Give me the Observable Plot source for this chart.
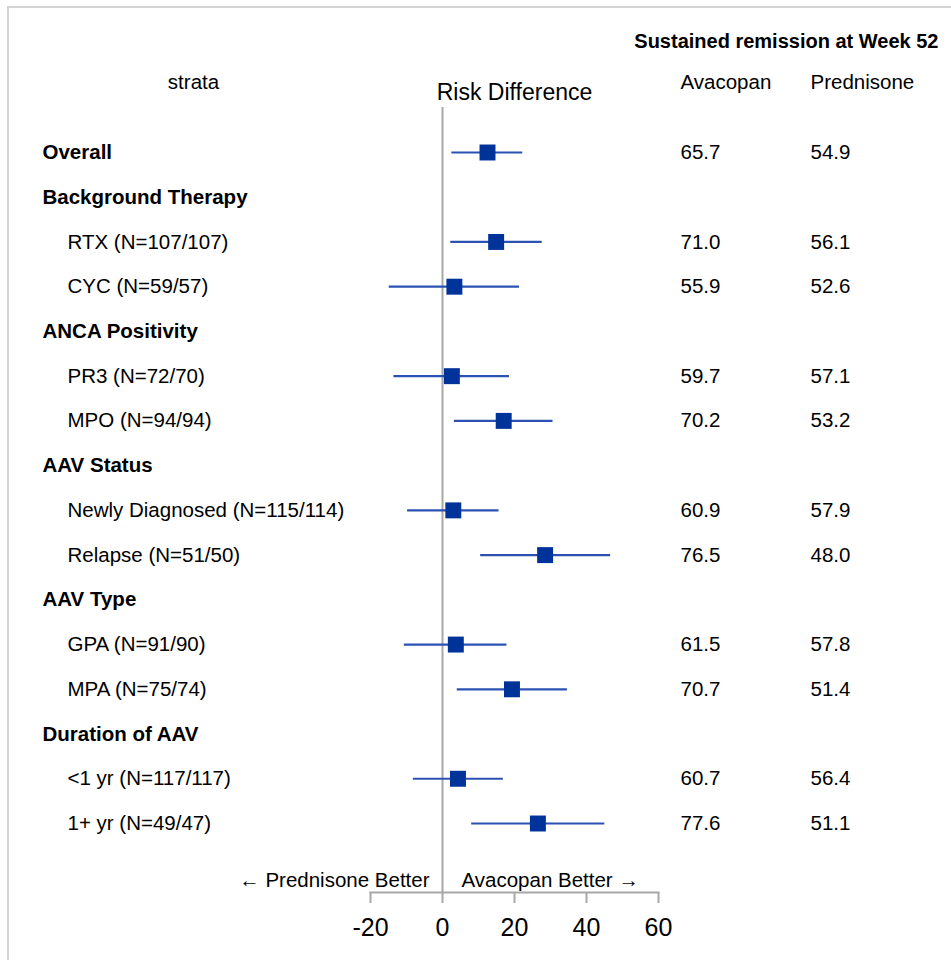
<!DOCTYPE html>
<html>
<head>
<meta charset="utf-8">
<script src="https://cdn.jsdelivr.net/npm/d3@7"></script>
<script src="https://cdn.jsdelivr.net/npm/@observablehq/plot@0.6"></script>
<style>
  html, body { margin: 0; padding: 0; background: #fff; }
  #chart { position: absolute; left: 0; top: 0; }
  #panel {
    position: absolute; left: 7px; top: 6px; width: 980px; height: 990px;
    border-top: 2px solid #d4d4d4; border-left: 2px solid #d4d4d4;
    box-sizing: border-box; pointer-events: none;
  }
</style>
</head>
<body>
<div id="chart"></div>
<div id="panel"></div>
<script>
// Subgroup rows, top to bottom
const strata = [
  "Overall",
  "Background Therapy",
  "RTX (N=107/107)",
  "CYC (N=59/57)",
  "ANCA Positivity",
  "PR3 (N=72/70)",
  "MPO (N=94/94)",
  "AAV Status",
  "Newly Diagnosed (N=115/114)",
  "Relapse (N=51/50)",
  "AAV Type",
  "GPA (N=91/90)",
  "MPA (N=75/74)",
  "Duration of AAV",
  "<1 yr (N=117/117)",
  "1+ yr (N=49/47)"
];
// Bold, non-indented rows (overall and group headings)
const isHeading = [true, true, false, false, true, false, false, true, false, false, true, false, false, true, false, false];

// Risk difference (Avacopan − Prednisone, percentage points) with 95% CI
const riskDiff = [12.5, null, 14.9, 3.3, null, 2.6, 17.0, null, 3.0, 28.5, null, 3.7, 19.3, null, 4.3, 26.5];
const ciLow    = [2.6, null, 2.3, -14.8, null, -13.5, 3.3, null, -9.7, 10.6, null, -10.6, 4.1, null, -8.1, 8.1];
const ciHigh   = [22.3, null, 27.7, 21.4, null, 18.6, 30.7, null, 15.7, 46.7, null, 17.9, 34.7, null, 16.9, 45.1];

// Sustained remission at Week 52 (%)
const avacopanPct   = [65.7, null, 71.0, 55.9, null, 59.7, 70.2, null, 60.9, 76.5, null, 61.5, 70.7, null, 60.7, 77.6];
const prednisonePct = [54.9, null, 56.1, 52.6, null, 57.1, 53.2, null, 57.9, 48.0, null, 57.8, 51.4, null, 56.4, 51.1];

const xTicks = [-20, 0, 20, 40, 60];

const rows = strata.map((s, i) => ({
  strata: s,
  heading: isHeading[i],
  diff: riskDiff[i],
  lo: ciLow[i],
  hi: ciHigh[i],
  ava: avacopanPct[i],
  pred: prednisonePct[i]
}));
const measured = rows.filter(d => d.diff != null);

const BLUE = "#003399";
const LINE = "#2b52b3";
const GRAY = "#a8a8a8";
const FS = 20.5;

const chart = Plot.plot({
  width: 951,
  height: 960,
  marginLeft: 370,
  marginRight: 293,
  marginTop: 107,
  marginBottom: 68,
  style: { fontFamily: "'Liberation Sans', Arial, sans-serif", fontSize: "20px", color: "#000", background: "#fff", overflow: "visible" },
  x: { domain: [-20, 60] },
  y: { type: "point", domain: strata, range: [152, 823], padding: 0, round: false, axis: null },
  marks: [
    // zero line and axis baseline
    Plot.ruleX([0], { stroke: GRAY, strokeWidth: 2 }),
    Plot.frame({ anchor: "bottom", stroke: GRAY, strokeWidth: 2 }),
    Plot.axisX({
      ticks: xTicks, tickSize: 11, tickPadding: 15, fontSize: 25,
      tickFormat: d => String(d), stroke: GRAY, strokeWidth: 2, fill: "#000", label: null
    }),

    // confidence intervals and point estimates
    Plot.ruleY(measured, { y: "strata", x1: "lo", x2: "hi", stroke: LINE, strokeWidth: 2.2 }),
    Plot.dot(measured, { x: "diff", y: "strata", symbol: "square", r: 9, fill: BLUE, stroke: "none" }),

    // row labels
    Plot.text(rows.filter(d => d.heading), {
      y: "strata", text: "strata", frameAnchor: "left", dx: 42 - 370,
      textAnchor: "start", fontWeight: "bold", fontSize: FS
    }),
    Plot.text(rows.filter(d => !d.heading), {
      y: "strata", text: "strata", frameAnchor: "left", dx: 67 - 370,
      textAnchor: "start", fontSize: FS
    }),

    // percentage columns
    Plot.text(measured, {
      y: "strata", text: d => d.ava.toFixed(1), frameAnchor: "right", dx: 22,
      textAnchor: "start", fontSize: FS
    }),
    Plot.text(measured, {
      y: "strata", text: d => d.pred.toFixed(1), frameAnchor: "right", dx: 152,
      textAnchor: "start", fontSize: FS
    }),

    // column headers
    Plot.text(["strata"], { frameAnchor: "top-left", dx: 193 - 370, dy: -33, textAnchor: "middle", fontSize: FS }),
    Plot.text(["Risk Difference"], { frameAnchor: "top", dy: -24, textAnchor: "middle", fontSize: 23 }),
    Plot.text(["Avacopan"], { frameAnchor: "top-right", dx: 22, dy: -33, textAnchor: "start", fontSize: FS }),
    Plot.text(["Prednisone"], { frameAnchor: "top-right", dx: 152, dy: -33, textAnchor: "start", fontSize: FS }),
    Plot.text(["Sustained remission at Week 52"], {
      frameAnchor: "top-right", dx: 280, dy: -74, textAnchor: "end", fontWeight: "bold", fontSize: 20
    }),

    // direction annotations either side of zero
    Plot.text([0], { x: d => d, text: () => "← Prednisone Better", frameAnchor: "bottom", dx: -13, dy: -6, textAnchor: "end", fontSize: FS }),
    Plot.text([0], { x: d => d, text: () => "Avacopan Better →", frameAnchor: "bottom", dx: 19, dy: -6, textAnchor: "start", fontSize: FS })
  ]
});

document.getElementById("chart").appendChild(chart);
</script>
</body>
</html>
